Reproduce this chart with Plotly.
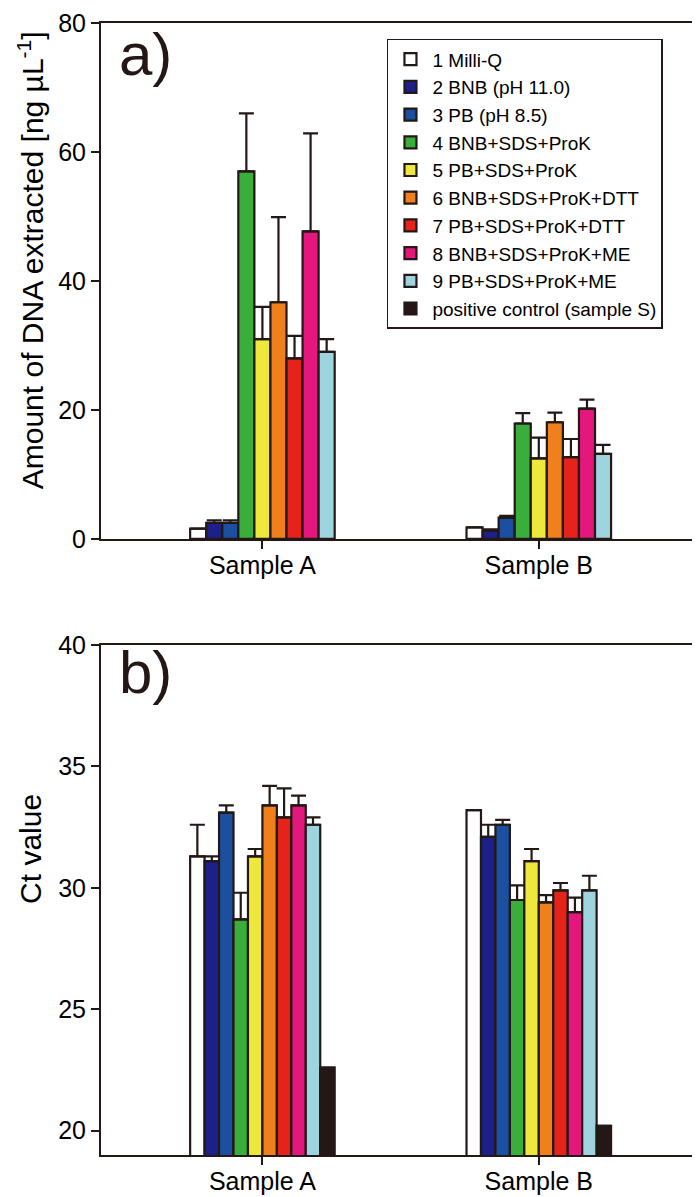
import plotly.graph_objects as go
from plotly.subplots import make_subplots

samples = ["Sample A", "Sample B"]
treatments = ["1 Milli-Q", "2 BNB (pH 11.0)", "3 PB (pH 8.5)", "4 BNB+SDS+ProK",
              "5 PB+SDS+ProK", "6 BNB+SDS+ProK+DTT", "7 PB+SDS+ProK+DTT",
              "8 BNB+SDS+ProK+ME", "9 PB+SDS+ProK+ME", "positive control (sample S)"]
colors = ["#ffffff", "#1d2088", "#1b4f9f", "#3aae3a", "#efe83c", "#ef801c",
          "#e5231b", "#e4177d", "#9dd4de", "#231815"]

# a) amount of DNA extracted (no positive control)
dna_sample_a = [1.6, 2.5, 2.5, 57.0, 31.0, 36.7, 28.0, 47.7, 29.0]
dna_sample_a_err = [0, 0.4, 0.4, 9.0, 5.0, 13.2, 3.5, 15.2, 2.0]
dna_sample_b = [1.8, 1.3, 3.3, 17.9, 12.5, 18.1, 12.7, 20.2, 13.2]
dna_sample_b_err = [0, 0.2, 0.3, 1.6, 3.2, 1.5, 2.8, 1.4, 1.4]

# b) Ct values
ct_sample_a = [31.3, 31.1, 33.1, 28.7, 31.3, 33.4, 32.9, 33.4, 32.6, 22.6]
ct_sample_a_err = [1.3, 0.2, 0.3, 1.1, 0.3, 0.8, 1.2, 0.4, 0.3, 0]
ct_sample_b = [33.2, 32.1, 32.6, 29.5, 31.1, 29.4, 29.9, 29.0, 29.9, 20.2]
ct_sample_b_err = [0, 0.5, 0.2, 0.6, 0.5, 0.3, 0.3, 0.6, 0.6, 0]

ink = "#231815"
font = "Liberation Sans, Arial, Helvetica, sans-serif"

fig = make_subplots(rows=2, cols=1)

for i, name in enumerate(treatments):
    err_style = dict(type="data", symmetric=False, color=ink, thickness=2.2, width=7.5)
    if i < len(dna_sample_a):
        fig.add_trace(go.Bar(
            x=samples, y=[dna_sample_a[i], dna_sample_b[i]], name=name,
            marker=dict(color=colors[i], line=dict(color=ink, width=2.2)),
            error_y=dict(array=[dna_sample_a_err[i], dna_sample_b_err[i]],
                         arrayminus=[0, 0], **err_style),
            legendgroup=name, showlegend=False), row=1, col=1)
    fig.add_trace(go.Bar(
        x=samples, y=[ct_sample_a[i], ct_sample_b[i]], name=name,
        marker=dict(color=colors[i], line=dict(color=ink, width=2.2)),
        error_y=dict(array=[ct_sample_a_err[i], ct_sample_b_err[i]],
                     arrayminus=[0, 0], **err_style),
        legendgroup=name), row=2, col=1)

axis_style = dict(showline=True, linecolor=ink, linewidth=2, mirror=True,
                  ticks="outside", ticklen=8, tickwidth=1.6, tickcolor=ink,
                  showgrid=False, zeroline=False, automargin=False)

fig.update_xaxes(axis_style, range=[-0.584, 1.576], ticklabelstandoff=-5,
                 tickfont=dict(size=25, color="black", family=font))
fig.update_yaxes(axis_style, tickfont=dict(size=25, color="black", family=font))
fig.update_yaxes(range=[0, 80], dtick=20, domain=[0.5442, 1.0], row=1, col=1)
fig.update_yaxes(range=[19, 40], tickvals=[20, 25, 30, 35, 40],
                 domain=[0.0, 0.4505], row=2, col=1)

# panel tags and y titles
fig.add_annotation(text="a)", x=0.026, y=0.972, xref="paper", yref="paper",
                   xanchor="left", yanchor="middle", showarrow=False,
                   font=dict(size=60, color=ink, family=font))
fig.add_annotation(text="b)", x=0.026, y=0.426, xref="paper", yref="paper",
                   xanchor="left", yanchor="middle", showarrow=False,
                   font=dict(size=60, color=ink, family=font))
fig.add_annotation(text="Amount of DNA extracted [ng µL<sup>-1</sup>]",
                   x=-0.118, y=0.79, xref="paper", yref="paper", textangle=-90,
                   xanchor="center", yanchor="middle", showarrow=False,
                   font=dict(size=30, color="black", family=font))
fig.add_annotation(text="Ct value", x=-0.118, y=0.27, xref="paper", yref="paper",
                   textangle=-90, xanchor="center", yanchor="middle", showarrow=False,
                   font=dict(size=30, color="black", family=font))

fig.update_layout(
    width=700, height=1197,
    margin=dict(l=93, r=10, t=15, b=50, autoexpand=False),
    barmode="group", bargap=0.477, bargroupgap=0,
    plot_bgcolor="white", paper_bgcolor="white",
    font=dict(family=font, color="black"),
    legend=dict(x=0.479, y=0.986, xanchor="left", yanchor="top",
                bgcolor="white", bordercolor=ink, borderwidth=1.5,
                font=dict(size=19, color="black", family=font),
                itemwidth=34, tracegroupgap=0, traceorder="normal"),
)

fig.write_html("out.html")
